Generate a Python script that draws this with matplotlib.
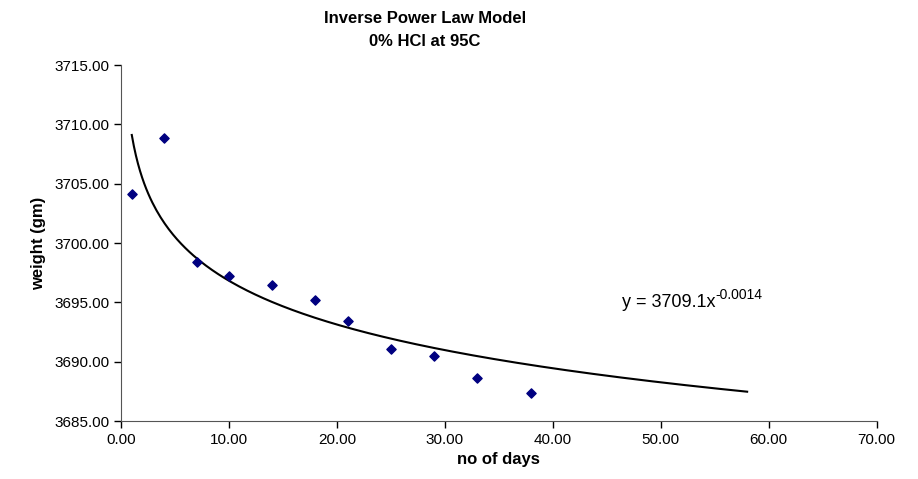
import numpy as np
import matplotlib
matplotlib.use("Agg")
import matplotlib.pyplot as plt
from matplotlib.ticker import FormatStrFormatter

plt.rcParams["font.family"] = ["Liberation Sans", "DejaVu Sans"]

days = [1, 4, 7, 10, 14, 18, 21, 25, 29, 33, 38]
weight = [3704.1, 3708.9, 3698.4, 3697.2, 3696.5, 3695.2, 3693.4, 3691.1, 3690.5, 3688.6, 3687.4]
forecast_end = 58

# power-law trendline fit in log-log space, like the spreadsheet does
b, ln_a = np.polyfit(np.log(days), np.log(weight), 1)
xs = np.linspace(days[0], forecast_end, 300)
ys = np.exp(ln_a) * xs ** b

fig = plt.figure(figsize=(9.18, 4.79), dpi=100)
ax = fig.add_axes([0.1318, 0.121, 0.8232, 0.743])

ax.plot(xs, ys, color="black", lw=1.5)
ax.scatter(days, weight, marker="D", s=22, color="#000080", zorder=3)

ax.set_xlim(0, 70)
ax.set_ylim(3685, 3715)
ax.set_xticks(np.arange(0, 71, 10))
ax.set_yticks(np.arange(3685, 3716, 5))
ax.xaxis.set_major_formatter(FormatStrFormatter("%.2f"))
ax.yaxis.set_major_formatter(FormatStrFormatter("%.2f"))
ax.tick_params(labelsize=11, direction="out", length=5, width=1)
ax.spines["top"].set_visible(False)
ax.spines["right"].set_visible(False)
ax.spines["left"].set_color("#555555")
ax.spines["bottom"].set_color("#555555")

ax.set_xlabel("no of days", fontsize=12, fontweight="bold", labelpad=4)
ax.set_ylabel("weight (gm)", fontsize=12, fontweight="bold", labelpad=6)
fig.text(0.463, 0.962, "Inverse Power Law Model", ha="center", va="center",
         fontsize=12, fontweight="bold")
fig.text(0.463, 0.914, "0% HCl at 95C", ha="center", va="center",
         fontsize=12, fontweight="bold")

eq = ax.text(46.4, 3695.0, "y = 3709.1x", fontsize=13, va="center")
ax.annotate("-0.0014", xy=(1.0, 0.5), xycoords=eq, ha="left", va="bottom",
            fontsize=10)

fig.savefig("out.png", dpi=100)
